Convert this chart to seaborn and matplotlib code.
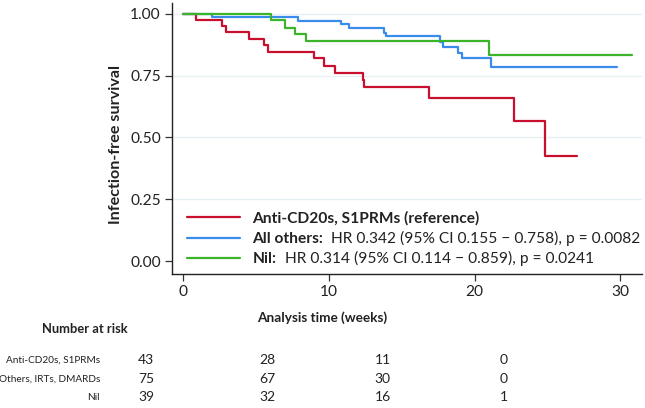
import seaborn as sns
import pandas as pd
import matplotlib.pyplot as plt
from matplotlib import font_manager

# --- Kaplan-Meier: infection-free survival by treatment group ---

groups = ['Anti-CD20s, S1PRMs', 'All others', 'Nil']
colors = ['#C8102E', '#3A8CEB', '#3CB42A']

red_t = [0, 0.85, 2.65, 2.95, 4.52, 5.56, 5.79, 8.97, 9.67, 10.41, 12.3, 12.42, 16.86, 22.72, 24.83, 27.04]
red_s = [1.0, 0.977, 0.953, 0.926, 0.899, 0.873, 0.848, 0.820, 0.791, 0.763, 0.734, 0.705, 0.658, 0.565, 0.425, 0.425]

blue_t = [0, 1.95, 7.85, 10.84, 11.4, 13.75, 13.9, 17.62, 17.85, 18.87, 19.15, 21.12, 29.79]
blue_s = [1.0, 0.987, 0.972, 0.958, 0.942, 0.924, 0.909, 0.887, 0.866, 0.844, 0.820, 0.785, 0.785]

green_t = [0, 6.02, 6.98, 7.65, 8.41, 21.0, 30.77]
green_s = [1.0, 0.974, 0.945, 0.918, 0.891, 0.832, 0.832]

legend_bold = ['Anti-CD20s, S1PRMs (reference)', 'All others:', 'Nil:']
legend_rest = ['', '  HR 0.342 (95% CI 0.155 \u2212 0.758), p = 0.0082',
               '  HR 0.314 (95% CI 0.114 \u2212 0.859), p = 0.0241']

risk_labels = ['Anti-CD20s, S1PRMs', 'Others, IRTs, DMARDs', 'Nil']
risk_counts = [[43, 28, 11, 0],
               [75, 67, 30, 0],
               [39, 32, 16, 1]]

df = pd.concat([
    pd.DataFrame({'time': red_t, 'surv': red_s, 'group': groups[0]}),
    pd.DataFrame({'time': blue_t, 'surv': blue_s, 'group': groups[1]}),
    pd.DataFrame({'time': green_t, 'surv': green_s, 'group': groups[2]}),
], ignore_index=True)

sns.set_style('white')
plt.rcParams['font.family'] = ['Lato', 'DejaVu Sans']
FS = 11.2
TXT = '#222222'

# the risk table text in the original is horizontally squeezed
installed = {f.name for f in font_manager.fontManager.ttflist}
if 'Liberation Sans Narrow' in installed:
    risk_font, risk_fs = ['Liberation Sans Narrow', 'Lato'], 9.5
else:
    risk_font, risk_fs = ['Lato', 'DejaVu Sans'], 7.2

fig = plt.figure(figsize=(6.45, 4.08), dpi=100)
ax = fig.add_axes([172/645, 1 - 274/408, 470/645, 271/408])

sns.lineplot(data=df, x='time', y='surv', hue='group', hue_order=groups,
             palette=colors, estimator=None, sort=False, drawstyle='steps-post',
             linewidth=1.6, legend=False, ax=ax)

ax.set_xlim(-0.776, 31.48)
ax.set_ylim(-0.0526, 1.0445)
ax.set_xticks([0, 10, 20, 30])
ax.set_yticks([0, 0.25, 0.5, 0.75, 1.0])
ax.set_yticklabels(['0.00', '0.25', '0.50', '0.75', '1.00'])
ax.tick_params(axis='both', labelsize=FS, length=5, width=0.9, color='#333333',
               labelcolor=TXT, pad=3, left=True, bottom=True)
for y in [0.25, 0.5, 0.75, 1.0]:
    ax.axhline(y, color='#E6F0F4', lw=1, zorder=0)
for side in ['top', 'right']:
    ax.spines[side].set_visible(False)
for side in ['left', 'bottom']:
    ax.spines[side].set_color(TXT)
    ax.spines[side].set_linewidth(1)

ax.set_ylabel('Infection-free survival', fontsize=11.6, fontweight='bold', color=TXT)
ax.yaxis.set_label_coords((123 - 172) / 470, (274 - 145) / 271)
ax.set_xlabel('Analysis time (weeks)', fontsize=9.8, fontweight='bold', color=TXT)
ax.xaxis.set_label_coords((322.5 - 172) / 470, (274 - 311) / 271)

handles = [plt.Line2D([], [], color=c, lw=1.6) for c in colors]
leg = ax.legend(handles, legend_bold, loc='lower left', bbox_to_anchor=(0.0, -7/271),
                frameon=False, fontsize=FS, handlelength=3.4, handletextpad=0.83,
                labelspacing=0.4, borderpad=0.45, borderaxespad=0.5)
for t in leg.get_texts():
    t.set_fontweight('bold')
    t.set_color(TXT)

fig.canvas.draw()
for t, rest in zip(leg.get_texts(), legend_rest):
    if rest:
        ax.annotate(rest, xy=(1, 0), xycoords=t, va='bottom', ha='left',
                    fontsize=FS, color=TXT, zorder=10)

# number at risk table
fig.text(128/645, 1 - 329/408, 'Number at risk', ha='right', va='center',
         fontsize=9.3, fontweight='bold', color=TXT)
col_x = [146, 267, 382.5, 503.5]
row_y = [360, 379, 397]
for lab, counts, y in zip(risk_labels, risk_counts, row_y):
    fig.text(100/645, 1 - y/408, lab, ha='right', va='center', fontsize=risk_fs,
             family=risk_font, color=TXT)
    for n, x in zip(counts, col_x):
        fig.text(x/645, 1 - y/408, str(n), ha='center', va='center', fontsize=10, color=TXT)

fig.savefig('out.png', dpi=100)
